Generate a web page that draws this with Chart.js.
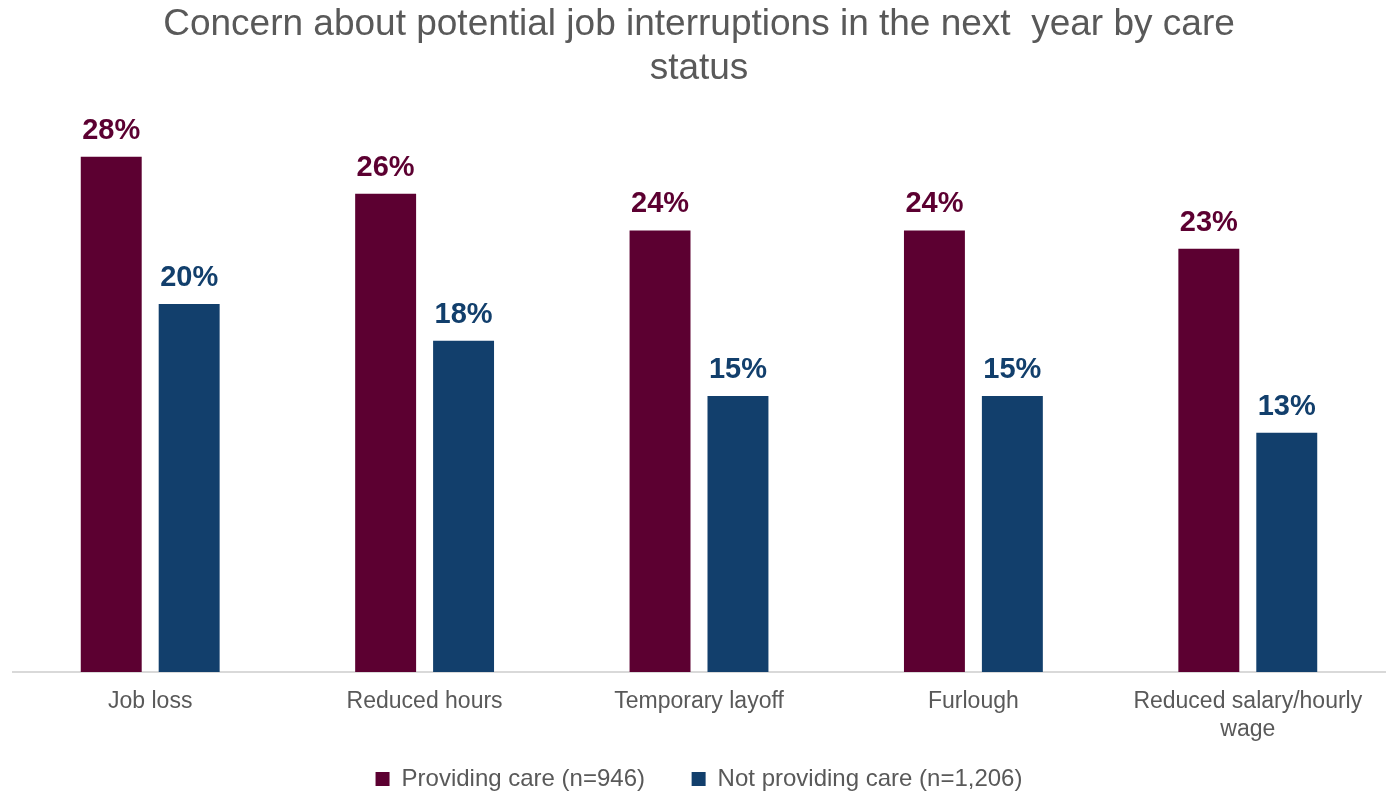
<!DOCTYPE html>
<html>
<head>
<meta charset="utf-8">
<title>Job interruptions by care status</title>
<script src="https://cdn.jsdelivr.net/npm/chart.js@4/dist/chart.umd.min.js"></script>
<style>
  html, body { margin: 0; padding: 0; background: #fff; }
  #wrap { width: 1397px; height: 791px; }
</style>
</head>
<body>
<div id="wrap"><canvas id="careChart"></canvas></div>
<script>
var categories = ['Job loss', 'Reduced hours', 'Temporary layoff', 'Furlough', ['Reduced salary/hourly', 'wage']];
var providingCare = [28, 26, 24, 24, 23];
var notProvidingCare = [20, 18, 15, 15, 13];
var seriesNames = ['Providing care (n=946)', 'Not providing care (n=1,206)'];

var wine = '#5C0031';
var navy = '#123F6C';
var grey = '#595959';
var fontFamily = 'Arial, "Liberation Sans", sans-serif';

// percent labels above each bar, same colour as the bar
var barLabels = {
    id: 'barLabels',
    afterDatasetsDraw: function (chart) {
        var ctx = chart.ctx;
        ctx.save();
        ctx.font = 'bold 29px ' + fontFamily;
        ctx.textAlign = 'center';
        ctx.textBaseline = 'alphabetic';
        chart.data.datasets.forEach(function (ds, i) {
            var meta = chart.getDatasetMeta(i);
            ctx.fillStyle = ds.backgroundColor;
            meta.data.forEach(function (bar, j) {
                ctx.fillText(ds.data[j] + '%', bar.x, bar.y - 18);
            });
        });
        ctx.restore();
    }
};

new Chart(document.getElementById('careChart'), {
    type: 'bar',
    data: {
        labels: categories,
        datasets: [
            {
                label: seriesNames[0],
                data: providingCare,
                backgroundColor: wine,
                categoryPercentage: 0.568,
                barPercentage: 0.782
            },
            {
                label: seriesNames[1],
                data: notProvidingCare,
                backgroundColor: navy,
                categoryPercentage: 0.568,
                barPercentage: 0.782
            }
        ]
    },
    options: {
        responsive: true,
        maintainAspectRatio: false,
        animation: false,
        // legend keeps 10px of its own space below the entries
        layout: { padding: { left: 13, right: 12, top: 0, bottom: -10 } },
        plugins: {
            title: {
                display: true,
                text: ['Concern about potential job interruptions in the next  year by care', 'status'],
                color: grey,
                font: { family: fontFamily, size: 37, weight: 'normal', lineHeight: 1.19 },
                padding: { top: 3, bottom: 29 }
            },
            legend: {
                position: 'bottom',
                labels: {
                    color: grey,
                    font: { family: fontFamily, size: 24 },
                    boxWidth: 14,
                    boxHeight: 14,
                    padding: 1,
                    // wider gap between the two legend entries
                    generateLabels: function (chart) {
                        var items = Chart.defaults.plugins.legend.labels.generateLabels(chart);
                        items[0].text = items[0].text + '\u2002\u2002\u2002\u2009\u2009';
                        return items;
                    }
                }
            },
            tooltip: { enabled: false }
        },
        scales: {
            x: {
                grid: { display: false, drawTicks: false },
                border: { display: true, color: '#D9D9D9', width: 2 },
                ticks: {
                    color: grey,
                    font: { family: fontFamily, size: 23, lineHeight: 1.25 },
                    padding: 15,
                    maxRotation: 0,
                    autoSkip: false
                },
                afterFit: function (scale) {
                    scale.height = 94;
                }
            },
            y: {
                display: false,
                min: 0,
                max: 30
            }
        }
    },
    plugins: [barLabels]
});
</script>
</body>
</html>
